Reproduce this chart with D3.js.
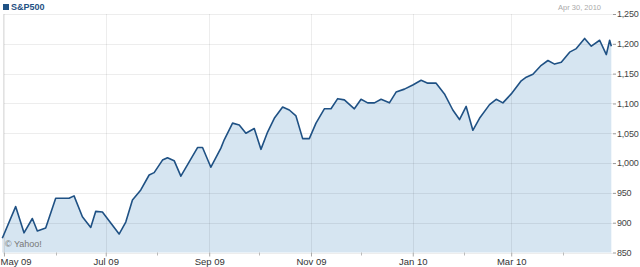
<!DOCTYPE html>
<html>
<head>
<meta charset="utf-8">
<script src="https://cdn.jsdelivr.net/npm/d3@7"></script>
<style>
  html, body { margin: 0; padding: 0; background: #fff; }
  svg { display: block; font-family: "Liberation Sans", Arial, sans-serif; }
</style>
</head>
<body>
<svg id="chart" width="640" height="267"></svg>
<script>
// S&P 500, one year
const dates = [
  "2009-04-30","2009-05-08","2009-05-13","2009-05-18","2009-05-21","2009-05-26",
  "2009-06-01","2009-06-09","2009-06-12","2009-06-17","2009-06-22","2009-06-25",
  "2009-06-29","2009-07-09","2009-07-13","2009-07-17","2009-07-22","2009-07-27",
  "2009-07-30","2009-08-04","2009-08-07","2009-08-11","2009-08-15","2009-08-25",
  "2009-08-28","2009-09-02","2009-09-08","2009-09-10","2009-09-15","2009-09-19",
  "2009-09-23","2009-09-28","2009-10-02","2009-10-06","2009-10-10","2009-10-15",
  "2009-10-19","2009-10-23","2009-10-27","2009-10-31","2009-11-04","2009-11-09",
  "2009-11-13","2009-11-17","2009-11-21","2009-11-27","2009-12-01","2009-12-05",
  "2009-12-09","2009-12-13","2009-12-18","2009-12-22","2009-12-27","2010-01-01",
  "2010-01-06","2010-01-10","2010-01-15","2010-01-20","2010-01-25","2010-01-29",
  "2010-02-02","2010-02-06","2010-02-10","2010-02-16","2010-02-20","2010-02-24",
  "2010-03-01","2010-03-07","2010-03-10","2010-03-14","2010-03-19","2010-03-23",
  "2010-03-27","2010-03-31","2010-04-05","2010-04-09","2010-04-14","2010-04-18",
  "2010-04-23","2010-04-27","2010-04-29","2010-04-30"
];
const closes = [
  874, 927, 883, 907, 886, 891,
  941, 941, 945, 910, 892, 919,
  918, 881, 901, 938, 955, 980,
  984, 1005, 1009, 1004, 978, 1026,
  1026, 993, 1025, 1039, 1067, 1064,
  1050, 1058, 1023, 1052, 1075, 1094,
  1089, 1079, 1041, 1041, 1067, 1091,
  1091, 1108, 1106, 1091, 1107, 1101,
  1101, 1107, 1101, 1119, 1124, 1131,
  1139, 1134, 1134, 1116, 1089, 1073,
  1095, 1055, 1075, 1098, 1107, 1101,
  1116, 1138, 1144, 1149, 1164, 1172,
  1166, 1169, 1186, 1192, 1209, 1196,
  1206, 1182, 1206, 1196
];
const yTicks = [850, 900, 950, 1000, 1050, 1100, 1150, 1200, 1250];
const monthTicks = ["2009-05-01","2009-07-01","2009-09-01","2009-11-01","2010-01-01","2010-03-01"];
const minorTicks = ["2009-06-01","2009-08-01","2009-10-01","2009-12-01","2010-02-01","2010-04-01"];
const title = "S&P500";
const asOf = "Apr 30, 2010";

const parse = d3.timeParse("%Y-%m-%d");
const data = dates.map((d, i) => ({ date: parse(d), value: closes[i] }));

const plotLeft = 3, plotRight = 613, plotTop = 14, plotBottom = 252.5;

const x = d3.scaleTime()
  .domain([parse("2009-04-30"), parse("2010-05-01")])
  .range([2.3, plotRight]);
const y = d3.scaleLinear().domain([850, 1250]).range([plotBottom, plotTop]);

const svg = d3.select("#chart");

// area under the line
const area = d3.area()
  .x(d => x(d.date))
  .y0(plotBottom)
  .y1(d => y(d.value));
svg.append("path")
  .datum(data)
  .attr("d", area)
  .attr("fill", "#d6e5f1");

// grid
svg.append("g")
  .selectAll("line")
  .data(yTicks)
  .join("line")
  .attr("x1", plotLeft).attr("x2", plotRight)
  .attr("y1", d => Math.round(y(d)) + 0.5).attr("y2", d => Math.round(y(d)) + 0.5)
  .attr("stroke", "rgba(0,0,0,0.07)");

svg.append("g")
  .selectAll("line")
  .data(monthTicks.map(parse))
  .join("line")
  .attr("x1", d => Math.round(x(d)) + 0.5).attr("x2", d => Math.round(x(d)) + 0.5)
  .attr("y1", plotTop).attr("y2", plotBottom)
  .attr("stroke", "rgba(0,0,0,0.07)");

// frame
svg.append("line")
  .attr("x1", plotLeft + 0.5).attr("x2", plotLeft + 0.5)
  .attr("y1", plotTop).attr("y2", plotBottom)
  .attr("stroke", "#e2e2e2");

// line
const line = d3.line()
  .x(d => x(d.date))
  .y(d => y(d.value));
svg.append("path")
  .datum(data)
  .attr("d", line)
  .attr("fill", "none")
  .attr("stroke", "#1f5184")
  .attr("stroke-width", 1.6)
  .attr("stroke-linejoin", "round");

// right axis
const yAxis = svg.append("g")
  .attr("transform", `translate(${plotRight},0)`)
  .call(d3.axisRight(y).tickValues(yTicks).tickFormat(d3.format(",")).tickSize(3).tickPadding(1));
yAxis.select(".domain").remove();
yAxis.selectAll(".tick line").attr("stroke", "#999");
yAxis.selectAll("text")
  .attr("fill", "#444")
  .style("font-size", "9px")
  .style("letter-spacing", "-0.2px");

// bottom axis
const xAxis = svg.append("g")
  .attr("transform", `translate(0,${plotBottom})`)
  .call(d3.axisBottom(x).tickValues(monthTicks.map(parse))
    .tickFormat(d3.timeFormat("%b %y")).tickSize(4).tickPadding(2));
xAxis.select(".domain").remove();
xAxis.selectAll(".tick line").attr("stroke", "#aaa");
xAxis.selectAll("text")
  .attr("fill", "#333")
  .style("font-size", "9.5px")
  .attr("text-anchor", (d, i) => i === 0 ? "start" : "middle")
  .attr("x", (d, i) => i === 0 ? -4 : 0);

svg.append("g")
  .attr("transform", `translate(0,${plotBottom})`)
  .selectAll("line")
  .data(minorTicks.map(parse))
  .join("line")
  .attr("x1", d => Math.round(x(d)) + 0.5).attr("x2", d => Math.round(x(d)) + 0.5)
  .attr("y1", 0).attr("y2", 3)
  .attr("stroke", "#bbb");

// header
svg.append("rect")
  .attr("x", 3).attr("y", 4)
  .attr("width", 6).attr("height", 6)
  .attr("fill", "#1f5184");
svg.append("text")
  .attr("x", 11).attr("y", 10)
  .attr("fill", "#1f5184")
  .style("font-size", "9px")
  .style("font-weight", "bold")
  .text(title);
svg.append("text")
  .attr("x", 601).attr("y", 9.5)
  .attr("text-anchor", "end")
  .attr("fill", "#aaa")
  .style("font-size", "7.5px")
  .text(asOf);

svg.append("text")
  .attr("x", 5).attr("y", 247)
  .attr("fill", "#777")
  .style("font-size", "9px")
  .text("\u00a9 Yahoo!");
</script>
</body>
</html>
